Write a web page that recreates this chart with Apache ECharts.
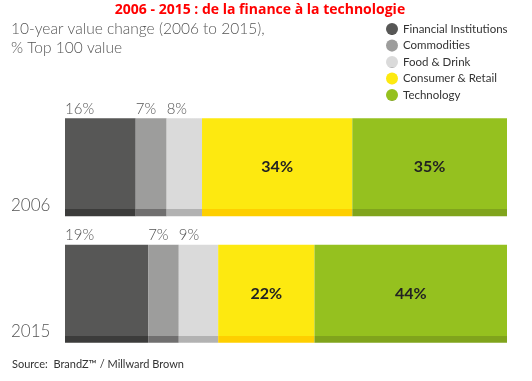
<!DOCTYPE html>
<html><head><meta charset="utf-8">
<script src="https://cdn.jsdelivr.net/npm/echarts@6/dist/echarts.min.js"></script>
<style>html,body{margin:0;padding:0;background:#fff}#c{width:532px;height:381px}</style>
</head><body><div id="c"></div>
<script>
const years = ['2006', '2015'];
const sectors = ['Financial Institutions', 'Commodities', 'Food & Drink', 'Consumer & Retail', 'Technology'];
const financial = [16, 19];
const commodities = [7, 7];
const foodDrink = [8, 9];
const consumerRetail = [34, 22];
const technology = [35, 44];
const colors = ['#575756', '#9d9d9c', '#dadada', '#fde910', '#95c11f'];
const stripColors = ['#3c3c3b', '#706f6f', '#b2b2b2', '#fecf00', '#80a41c'];

const raw = [financial, commodities, foodDrink, consumerRetail, technology];
const totals = years.map((_, i) => raw.reduce((s, a) => s + a[i], 0));

const chart = echarts.init(document.getElementById('c'), null, {renderer: 'canvas'});
const series = raw.map((arr, k) => {
  const c = colors[k], d = stripColors[k];
  const outside = k < 3;
  return {
    name: sectors[k], type: 'bar', stack: 'all', barWidth: 98,
    data: arr.map((v, i) => v / totals[i] * 100),
    itemStyle: { color: new echarts.graphic.LinearGradient(0, 0, 0, 1, [
      {offset: 0, color: c}, {offset: 0.929, color: c},
      {offset: 0.929, color: d}, {offset: 1, color: d}]) },
    emphasis: {disabled: true},
    label: outside ? {
      show: true, position: [0, -17], align: 'left', verticalAlign: 'top',
      formatter: p => arr[p.dataIndex] + '%',
      fontFamily: 'Lato', fontSize: 15, color: '#555', fontWeight: 300
    } : {
      show: true, position: 'inside',
      formatter: p => arr[p.dataIndex] + '%',
      fontFamily: 'Lato', fontSize: 16, fontWeight: 'bold', color: '#222'
    }
  };
});

chart.setOption({
  animation: false,
  color: colors,
  title: [{
    text: '2006 - 2015 : de la finance à la technologie',
    left: 260, textAlign: 'center', top: 3, padding: 0,
    textStyle: {color: '#ff0000', fontFamily: 'Open Sans', fontWeight: 'bold', fontSize: 14}
  }, {
    text: '10-year value change (2006 to 2015),\n% Top 100 value',
    left: 11, top: 19, padding: 0,
    textStyle: {color: '#555', fontFamily: 'Lato', fontWeight: 300, fontSize: 15.5, lineHeight: 19}
  }, {
    text: 'Source:  BrandZ™ / Millward Brown',
    left: 12, top: 359, padding: 0,
    textStyle: {color: '#333', fontFamily: 'Lato', fontWeight: 'normal', fontSize: 11}
  }],
  legend: {
    orient: 'vertical', left: 386, top: 23, itemGap: 4.5, padding: 0,
    icon: 'circle', itemWidth: 12, itemHeight: 12,
    textStyle: {fontFamily: 'Lato', fontSize: 11.5, color: '#333'},
    data: sectors
  },
  grid: {left: 65, right: 25, top: 104, bottom: 24, containLabel: false},
  xAxis: {type: 'value', min: 0, max: 100, show: false},
  yAxis: {
    type: 'category', data: years, inverse: true,
    axisLine: {show: false}, axisTick: {show: false},
    axisLabel: {
      align: 'left', margin: 54, verticalAlign: 'middle', lineHeight: 38,
      formatter: v => '\n\n' + v,
      fontFamily: 'Lato', fontWeight: 300, fontSize: 17, color: '#555'
    }
  },
  series: series
});
</script></body></html>
